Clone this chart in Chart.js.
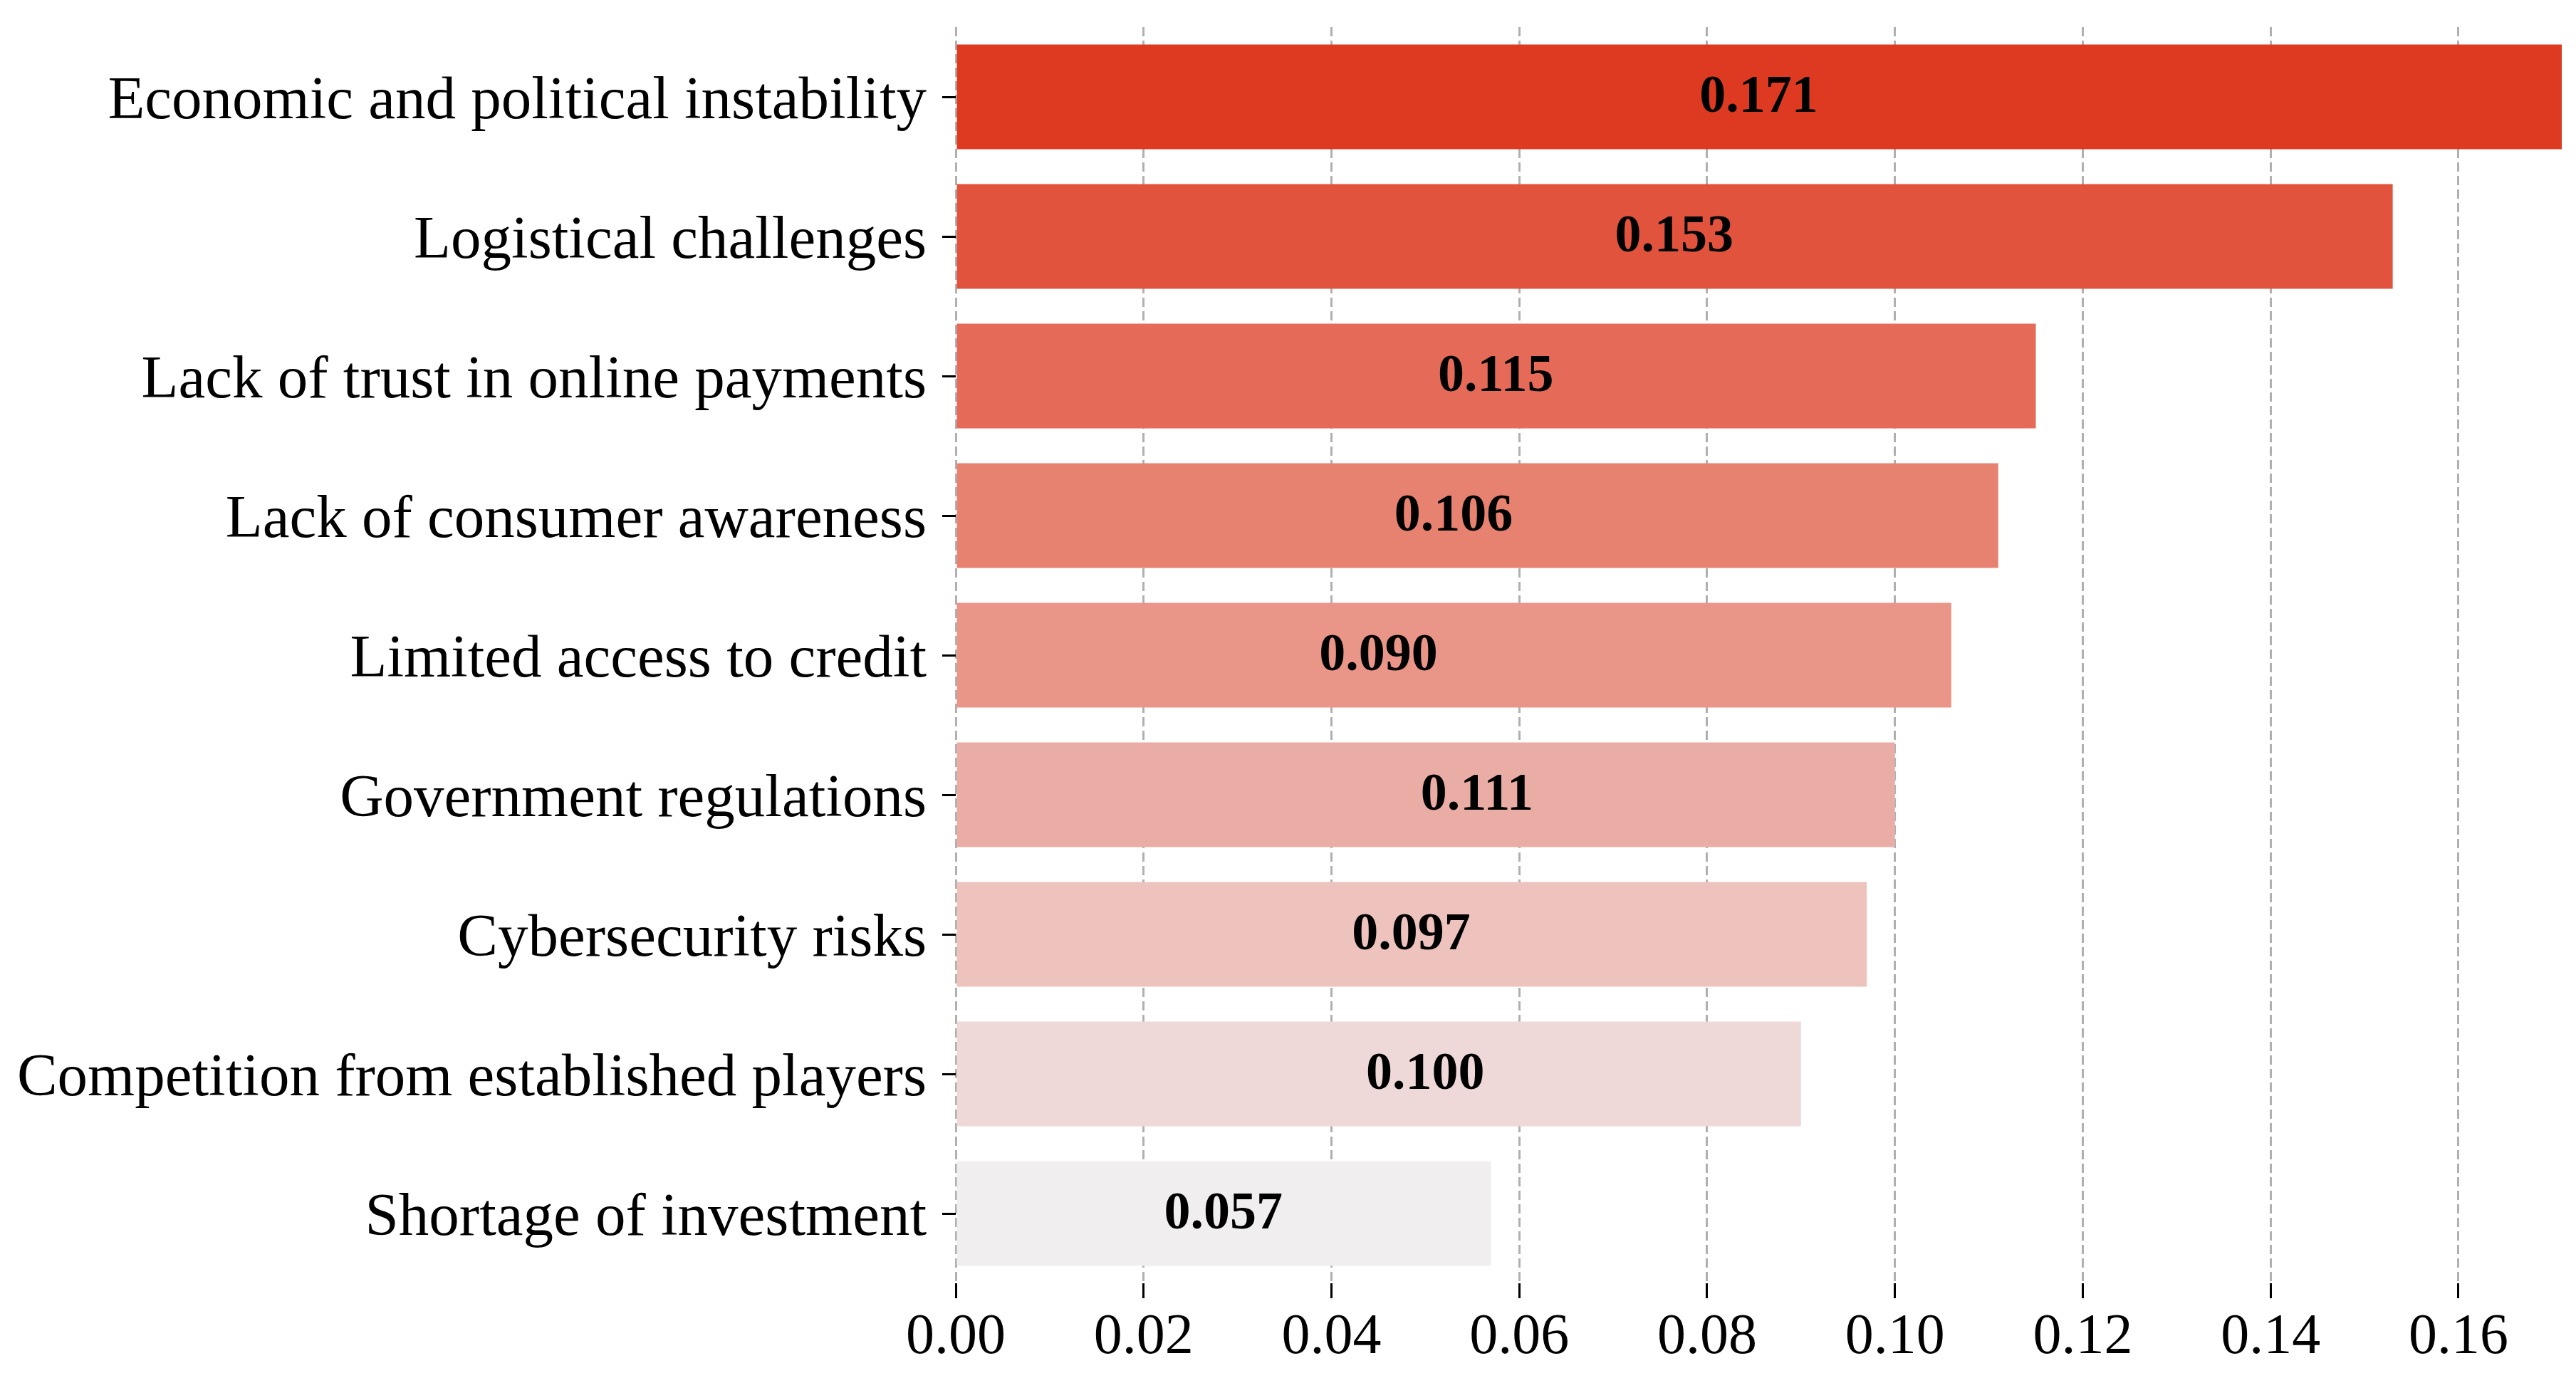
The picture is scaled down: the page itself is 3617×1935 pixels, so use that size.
<!DOCTYPE html>
<html>
<head>
<meta charset="utf-8">
<script src="https://cdn.jsdelivr.net/npm/chart.js@4.4.1/dist/chart.umd.min.js"></script>
<style>
  html, body { margin: 0; padding: 0; background: #fff; }
  canvas { display: block; }
</style>
</head>
<body>
<canvas id="barChart" width="3617" height="1935"></canvas>
<script>
const categories = [
  'Economic and political instability',
  'Logistical challenges',
  'Lack of trust in online payments',
  'Lack of consumer awareness',
  'Limited access to credit',
  'Government regulations',
  'Cybersecurity risks',
  'Competition from established players',
  'Shortage of investment'
];
// bar lengths (sorted)
const barValues = [0.171, 0.153, 0.115, 0.111, 0.106, 0.100, 0.097, 0.090, 0.057];
// numbers printed on the bars
const labelValues = [0.171, 0.153, 0.115, 0.106, 0.090, 0.111, 0.097, 0.100, 0.057];
const barColors = ['#dd3a21', '#e1533d', '#e56a57', '#e88270', '#e99588', '#eaada5', '#eec3bd', '#eed9d8', '#f0eeef'];

const serif = '"Liberation Serif", "Times New Roman", serif';

// value labels sit at half of the printed value, like the original
const valueLabels = {
  id: 'valueLabels',
  afterDatasetsDraw(chart) {
    const { ctx, scales: { x, y } } = chart;
    ctx.save();
    ctx.font = 'bold 74px ' + serif;
    ctx.fillStyle = '#000';
    ctx.textAlign = 'center';
    ctx.textBaseline = 'middle';
    labelValues.forEach((v, i) => {
      ctx.fillText(v.toFixed(3), x.getPixelForValue(v / 2), y.getPixelForValue(i) + 2);
    });
    ctx.restore();
  }
};

const ctx = document.getElementById('barChart').getContext('2d');
new Chart(ctx, {
  type: 'bar',
  data: {
    labels: categories,
    datasets: [{
      data: barValues,
      backgroundColor: barColors,
      borderWidth: 0,
      barPercentage: 0.75,
      categoryPercentage: 1.0
    }]
  },
  options: {
    indexAxis: 'y',
    responsive: false,
    devicePixelRatio: 1,
    animation: false,
    layout: { padding: { top: 38, right: 20, left: 0, bottom: 0 } },
    plugins: {
      legend: { display: false },
      tooltip: { enabled: false }
    },
    scales: {
      x: {
        min: 0,
        max: 0.171,
        border: { display: false, dash: [13, 6] },
        grid: {
          color: '#b0b0b0',
          lineWidth: 3,
          drawTicks: true,
          tickLength: 21,
          tickColor: '#000',
          tickWidth: 3,
          tickBorderDash: []
        },
        ticks: {
          stepSize: 0.02,
          includeBounds: false,
          color: '#000',
          padding: 8,
          maxRotation: 0,
          font: { family: serif, size: 80 },
          callback: v => Number(v).toFixed(2)
        },
        afterFit: s => { s.height = 133; }
      },
      y: {
        border: { display: false },
        grid: {
          offset: false,
          drawOnChartArea: false,
          drawTicks: true,
          tickLength: 19,
          tickColor: '#000',
          tickWidth: 3
        },
        ticks: {
          color: '#000',
          padding: 22,
          labelOffset: 8,
          font: { family: serif, size: 85 }
        },
        afterFit: s => { s.width = 1342; s.paddingTop = 0; s.paddingBottom = 0; }
      }
    }
  },
  plugins: [valueLabels]
});
</script>
</body>
</html>
